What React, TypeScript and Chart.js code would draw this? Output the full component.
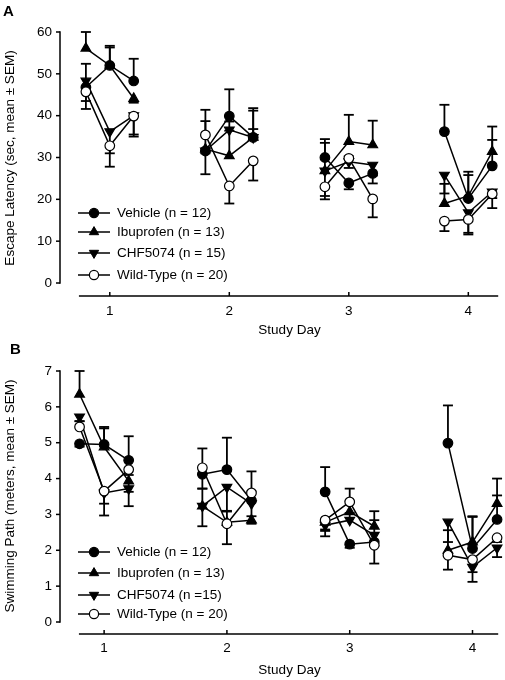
import React, { useEffect, useRef } from 'react';
import { Chart, registerables } from 'chart.js';

Chart.register(...registerables);

const FONT = '"Liberation Sans", Arial, Helvetica, sans-serif';

// ---- shared x layout (study days, three trials per day) ----
const days = [1, 2, 3, 4];
const trialOffsets = [-0.2, 0, 0.2];
const dayTickLabels = ['1', '2', '3', '4'];
const xTitle = 'Study Day';

// ---- Panel A: escape latency (sec) ----
const latencyVehicle = [46.8, 52.0, 48.3, 31.6, 39.9, 34.8, 30.0, 23.9, 26.2, 36.2, 20.2, 28.0];
const latencyIbuprofen = [56.1, 52.0, 44.1, 32.0, 30.4, 34.8, 26.8, 33.8, 33.0, 19.0, 20.8, 31.4];
const latencyCHF5074 = [48.3, 36.2, 40.0, 31.6, 36.6, 34.8, 26.8, 29.0, 28.2, 25.8, 16.8, 21.8];
const latencyWildType = [45.7, 32.8, 39.9, 35.4, 23.2, 29.2, 23.0, 29.8, 20.1, 14.8, 15.2, 21.3];
// signed SEM: + drawn upward, - drawn downward
const latencySemVehicle = [-5.2, 4.7, 5.3, -5.6, 6.4, 7.0, 4.4, -1.5, -2.4, 6.4, 6.4, 6.2];
const latencySemIbuprofen = [3.9, 4.3, -1.0, -1.0, 6.0, 6.4, 6.7, 6.4, 5.8, 4.7, 5.0, 6.0];
const latencySemCHF5074 = [4.1, -5.2, -4.5, 7.1, 2.0, 2.0, -6.0, -1.5, -2.5, -4.4, -5.2, -1.5];
const latencySemWildType = [-2.2, -5.0, -4.9, 6.0, -4.2, -4.7, -3.0, 0.5, -4.4, -2.4, -3.2, -3.4];
const latencyTicks = [0, 10, 20, 30, 40, 50, 60];
const latencyTitle = 'Escape Latency (sec, mean \u00b1 SEM)';
const legendA = ['Vehicle (n = 12)', 'Ibuprofen (n = 13)', 'CHF5074 (n = 15)', 'Wild-Type (n = 20)'];

// ---- Panel B: swimming path (meters) ----
const pathVehicle = [4.97, 4.95, 4.51, 4.12, 4.25, 3.39, 3.63, 2.17, 2.23, 4.99, 2.05, 2.86];
const pathIbuprofen = [6.35, 4.88, 3.93, 3.23, 2.78, 2.84, 2.78, 3.07, 2.67, 2.0, 2.23, 3.3];
const pathCHF5074 = [5.72, 3.6, 3.72, 3.23, 3.76, 3.3, 2.7, 2.84, 2.42, 2.79, 1.53, 2.07];
const pathWildType = [5.44, 3.65, 4.25, 4.3, 2.74, 3.6, 2.84, 3.35, 2.14, 1.86, 1.74, 2.35];
const pathSemVehicle = [-0.08, 0.49, 0.67, -0.4, 0.89, 0.25, 0.69, -0.1, -0.1, 1.05, 0.9, 0.67];
const pathSemIbuprofen = [0.65, 0.52, -0.3, -0.56, 0.3, -0.1, -0.2, 0.3, 0.42, 0.56, 0.7, 0.7];
const pathSemCHF5074 = [-0.12, -0.3, -0.49, 0.49, -0.66, -0.35, -0.31, 0.2, 0.42, -0.56, -0.41, -0.26];
const pathSemWildType = [0.16, -0.68, -0.15, 0.54, -0.57, 0.6, -0.3, 0.37, -0.51, -0.4, -0.35, -0.12];
const pathTicks = [0, 1, 2, 3, 4, 5, 6, 7];
const pathTitle = 'Swimming Path (meters, mean \u00b1 SEM)';
const legendB = ['Vehicle (n = 12)', 'Ibuprofen (n = 13)', 'CHF5074 (n =15)', 'Wild-Type (n = 20)'];

type Marker = 'filledCircle' | 'triangleUp' | 'triangleDown' | 'openCircle';
const seriesMarkers: Marker[] = ['filledCircle', 'triangleUp', 'triangleDown', 'openCircle'];
const seriesOrder = [1, 3, 2, 0];

function buildPoints(values: number[]) {
  const pts: { x: number; y: number | null }[] = [];
  days.forEach((d, di) => {
    trialOffsets.forEach((o, ti) => {
      pts.push({ x: d + o, y: values[di * trialOffsets.length + ti] });
    });
    if (di < days.length - 1) pts.push({ x: d + 0.5, y: null });
  });
  return pts;
}
function buildErrors(errs: number[]) {
  const out: (number | null)[] = [];
  days.forEach((d, di) => {
    trialOffsets.forEach((o, ti) => out.push(errs[di * trialOffsets.length + ti]));
    if (di < days.length - 1) out.push(null);
  });
  return out;
}

function markerStyle(m: Marker) {
  switch (m) {
    case 'filledCircle':
      return { pointStyle: 'circle', pointRadius: 4.8, pointBackgroundColor: '#000', pointRotation: 0 };
    case 'openCircle':
      return { pointStyle: 'circle', pointRadius: 4.8, pointBackgroundColor: '#fff', pointRotation: 0 };
    case 'triangleUp':
      return { pointStyle: 'triangle', pointRadius: 5.6, pointBackgroundColor: '#000', pointRotation: 0 };
    case 'triangleDown':
      return { pointStyle: 'triangle', pointRadius: 5.6, pointBackgroundColor: '#000', pointRotation: 180 };
  }
}

const customAxes = {
  id: 'customAxes',
  beforeDatasetsDraw(chart: any, _args: any, opts: any) {
    const ctx = chart.ctx;
    const xs = chart.scales.x;
    const ys = chart.scales.y;
    const area = chart.chartArea;
    const line = (x1: number, y1: number, x2: number, y2: number) => {
      ctx.beginPath();
      ctx.moveTo(x1, y1);
      ctx.lineTo(x2, y2);
      ctx.stroke();
    };
    ctx.save();
    ctx.strokeStyle = '#000';
    ctx.lineWidth = 1.5;
    ctx.lineCap = 'butt';
    // y axis
    line(area.left, ys.getPixelForValue(opts.yMax) - 0.75, area.left, ys.getPixelForValue(0) + 0.75);
    ys.ticks.forEach((t: any) => {
      if (t.value < 0) return;
      const py = ys.getPixelForValue(t.value);
      line(area.left - 4, py, area.left, py);
    });
    // x axis (detached)
    line(xs.getPixelForValue(opts.xLineStart), area.bottom, area.right, area.bottom);
    xs.ticks.forEach((t: any) => {
      const px = xs.getPixelForValue(t.value);
      line(px, area.bottom, px, area.bottom - 4);
    });
    // error bars
    ctx.lineWidth = 1.8;
    chart.data.datasets.forEach((ds: any, di: number) => {
      const meta = chart.getDatasetMeta(di);
      ds.errorBars.forEach((e: number | null, i: number) => {
        const v = ds.data[i].y;
        if (e == null || v == null) return;
        const pt = meta.data[i];
        const py1 = ys.getPixelForValue(v + e);
        line(pt.x, pt.y, pt.x, py1);
        line(pt.x - 5, py1, pt.x + 5, py1);
      });
    });
    ctx.restore();
  },
};

interface PanelProps {
  values: number[][];
  errors: number[][];
  yTicks: number[];
  yMin: number;
  xMin: number;
  xMax: number;
  xLineStart: number;
  padTop: number;
  xAxisHeight: number;
  tickPad: number;
}

function Panel(p: PanelProps) {
  const ref = useRef<HTMLCanvasElement | null>(null);
  useEffect(() => {
    if (!ref.current) return;
    const yMax = p.yTicks[p.yTicks.length - 1];
    const datasets = p.values.map((vals, si) => ({
      data: buildPoints(vals),
      errorBars: buildErrors(p.errors[si]),
      borderColor: '#000',
      borderWidth: 1.5,
      pointBorderColor: '#000',
      pointBorderWidth: 1.2,
      showLine: true,
      spanGaps: false,
      tension: 0,
      clip: false,
      order: seriesOrder[si],
      ...markerStyle(seriesMarkers[si]),
    }));
    const chart = new Chart(ref.current, {
      type: 'line',
      data: { datasets } as any,
      plugins: [customAxes],
      options: {
        animation: false,
        responsive: false,
        devicePixelRatio: 1,
        layout: { padding: { top: p.padTop, right: 5, left: 0, bottom: 0 } },
        plugins: {
          legend: { display: false },
          tooltip: { enabled: false },
          customAxes: { yMax, xLineStart: p.xLineStart },
        } as any,
        scales: {
          x: {
            type: 'linear',
            min: p.xMin,
            max: p.xMax,
            afterBuildTicks: (s: any) => {
              s.ticks = days.map((d) => ({ value: d }));
            },
            afterFit: (s: any) => {
              s.height = p.xAxisHeight;
            },
            ticks: {
              callback: (v: any) => dayTickLabels[days.indexOf(Number(v))] ?? '',
              color: '#000',
              font: { family: FONT, size: 13.5 },
              padding: p.tickPad,
              maxRotation: 0,
              autoSkip: false,
            },
            grid: { display: false, drawTicks: false },
            border: { display: false },
          },
          y: {
            type: 'linear',
            min: p.yMin,
            max: yMax,
            afterBuildTicks: (s: any) => {
              s.ticks = p.yTicks.map((v) => ({ value: v }));
            },
            afterFit: (s: any) => {
              s.width = 60;
            },
            ticks: {
              color: '#000',
              font: { family: FONT, size: 13.5 },
              padding: 8,
              autoSkip: false,
            },
            grid: { display: false, drawTicks: false },
            border: { display: false },
          },
        },
      } as any,
    });
    return () => chart.destroy();
  }, []);
  return <canvas ref={ref} width={505} height={340} style={{ display: 'block', width: 505, height: 340 }} />;
}

function LegendMarker({ m }: { m: Marker }) {
  const cx = 16;
  const cy = 10;
  if (m === 'filledCircle' || m === 'openCircle') {
    return <circle cx={cx} cy={cy} r={4.6} fill={m === 'filledCircle' ? '#000' : '#fff'} stroke="#000" strokeWidth={1.2} />;
  }
  const r = 5.4;
  const h = r * 0.5;
  const w = r * Math.sin(Math.PI / 3);
  const pts =
    m === 'triangleUp'
      ? `${cx},${cy - r} ${cx + w},${cy + h} ${cx - w},${cy + h}`
      : `${cx},${cy + r} ${cx + w},${cy - h} ${cx - w},${cy - h}`;
  return <polygon points={pts} fill="#000" stroke="#000" strokeWidth={1} />;
}

function Legend({ labels, rows }: { labels: string[]; rows: number[] }) {
  return (
    <>
      {labels.map((lab, i) => (
        <div key={lab} style={{ position: 'absolute', left: 78, top: rows[i] - 10, height: 20, width: 200 }}>
          <svg width={32} height={20} style={{ position: 'absolute', left: 0, top: 0 }}>
            <line x1={0} y1={10} x2={32} y2={10} stroke="#000" strokeWidth={1.5} />
            <LegendMarker m={seriesMarkers[i]} />
          </svg>
          <span
            style={{
              position: 'absolute',
              left: 39,
              top: 0,
              lineHeight: '20px',
              fontSize: 13.5,
              fontFamily: FONT,
              whiteSpace: 'nowrap',
              color: '#000',
            }}
          >
            {lab}
          </span>
        </div>
      ))}
    </>
  );
}

const textBase: React.CSSProperties = {
  position: 'absolute',
  fontFamily: FONT,
  color: '#000',
  whiteSpace: 'nowrap',
};

function YTitle({ text, cx, cy }: { text: string; cx: number; cy: number }) {
  return (
    <div
      style={{
        ...textBase,
        left: cx,
        top: cy,
        fontSize: 13.5,
        lineHeight: '16px',
        transform: 'translate(-50%, -50%) rotate(-90deg)',
      }}
    >
      {text}
    </div>
  );
}

function XTitle({ text, cx, cy }: { text: string; cx: number; cy: number }) {
  return (
    <div style={{ ...textBase, left: cx, top: cy, fontSize: 13.5, lineHeight: '16px', transform: 'translate(-50%, -50%)' }}>
      {text}
    </div>
  );
}

export default function App() {
  return (
    <div style={{ position: 'absolute', left: 0, top: 0, width: 505, height: 680, background: '#fff', overflow: 'hidden' }}>
      <div style={{ position: 'absolute', left: 0, top: 0 }}>
        <Panel
          values={[latencyVehicle, latencyIbuprofen, latencyCHF5074, latencyWildType]}
          errors={[latencySemVehicle, latencySemIbuprofen, latencySemCHF5074, latencySemWildType]}
          yTicks={latencyTicks}
          yMin={-13 / (251 / 60)}
          xMin={1 - 50 / 120}
          xMax={1 + 390 / 120}
          xLineStart={1 - 31 / 120}
          padTop={32}
          xAxisHeight={44}
          tickPad={7}
        />
      </div>
      <div style={{ position: 'absolute', left: 0, top: 340 }}>
        <Panel
          values={[pathVehicle, pathIbuprofen, pathCHF5074, pathWildType]}
          errors={[pathSemVehicle, pathSemIbuprofen, pathSemCHF5074, pathSemWildType]}
          yTicks={pathTicks}
          yMin={-12 / (251 / 7)}
          xMin={1 - 44.3 / 123.3}
          xMax={1 + 395.7 / 123.3}
          xLineStart={1 - 25.3 / 123.3}
          padTop={31}
          xAxisHeight={46}
          tickPad={6}
        />
      </div>
      <div style={{ ...textBase, left: 3, top: 3, fontSize: 15, lineHeight: '15px', fontWeight: 'bold' }}>A</div>
      <div style={{ ...textBase, left: 10, top: 341, fontSize: 15, lineHeight: '15px', fontWeight: 'bold' }}>B</div>
      <YTitle text={latencyTitle} cx={9.5} cy={157.5} />
      <YTitle text={pathTitle} cx={9.5} cy={496} />
      <XTitle text={xTitle} cx={289.5} cy={330} />
      <XTitle text={xTitle} cx={289.5} cy={670} />
      <Legend labels={legendA} rows={[213.3, 232.3, 252.7, 275]} />
      <Legend labels={legendB} rows={[552.3, 573.3, 595, 614]} />
    </div>
  );
}
